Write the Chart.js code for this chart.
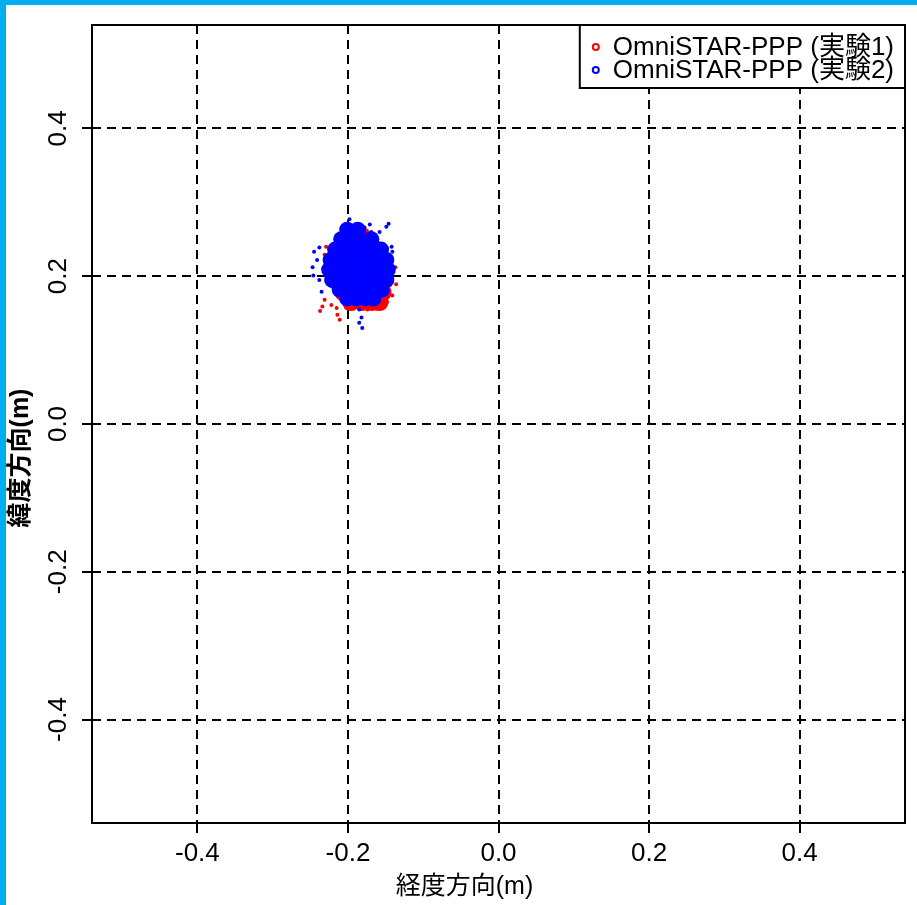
<!DOCTYPE html>
<html lang="ja">
<head>
<meta charset="UTF-8">
<title>OmniSTAR-PPP 測位誤差</title>
<style>
  html, body { margin: 0; padding: 0; background: #00aeef; }
  #wrap { position: absolute; left: 6px; top: 5px; width: 911px; height: 900px; background: #fff; }
</style>
</head>
<body>
<div id="wrap"><canvas id="myChart" width="911" height="900"></canvas></div>

<script src="https://cdn.jsdelivr.net/npm/chart.js"></script>
<script>
    // axis setup
    const xTicks = [-0.4, -0.2, 0.0, 0.2, 0.4];
    const yTicks = [-0.4, -0.2, 0.0, 0.2, 0.4];
    const axisMin = -0.54;
    const axisMax = 0.54;
    const xTitle = '経度方向(m)';
    const yTitle = '緯度方向(m)';
    const seriesLabels = ['OmniSTAR-PPP (実験1)', 'OmniSTAR-PPP (実験2)'];
    const seriesColors = ['#ff0000', '#0000ff'];

    // 実験1 (red) - dense core and scattered points  [x, y] in m
    const exp1Core = [
        [-0.197, 0.255], [-0.182, 0.255],
        [-0.212, 0.235], [-0.197, 0.235], [-0.182, 0.235], [-0.168, 0.235], [-0.160, 0.235],
        [-0.220, 0.215], [-0.205, 0.215], [-0.190, 0.215], [-0.175, 0.215], [-0.162, 0.215], [-0.152, 0.215],
        [-0.218, 0.195], [-0.203, 0.195], [-0.188, 0.195], [-0.173, 0.195], [-0.160, 0.195], [-0.151, 0.195],
        [-0.206, 0.178], [-0.191, 0.178], [-0.176, 0.178], [-0.163, 0.178], [-0.154, 0.178],
        [-0.196, 0.165], [-0.181, 0.165], [-0.168, 0.165], [-0.158, 0.165]
    ];
    const exp1Scatter = [
        [-0.231, 0.168], [-0.234, 0.159], [-0.237, 0.153], [-0.222, 0.161], [-0.215, 0.157],
        [-0.214, 0.148], [-0.211, 0.141], [-0.202, 0.157], [-0.194, 0.159], [-0.229, 0.240],
        [-0.231, 0.229], [-0.187, 0.267], [-0.137, 0.212], [-0.136, 0.189], [-0.141, 0.174],
        [-0.148, 0.165], [-0.161, 0.156], [-0.174, 0.155]
    ];

    // 実験2 (blue)
    const exp2Core = [
        [-0.201, 0.263], [-0.187, 0.263],
        [-0.209, 0.250], [-0.195, 0.250], [-0.182, 0.250], [-0.169, 0.250],
        [-0.217, 0.236], [-0.205, 0.236], [-0.193, 0.236], [-0.181, 0.236], [-0.169, 0.236], [-0.156, 0.236],
        [-0.223, 0.222], [-0.211, 0.222], [-0.199, 0.222], [-0.187, 0.222], [-0.175, 0.222], [-0.162, 0.222], [-0.149, 0.222],
        [-0.225, 0.209], [-0.213, 0.209], [-0.201, 0.209], [-0.189, 0.209], [-0.177, 0.209], [-0.162, 0.209], [-0.147, 0.209],
        [-0.221, 0.195], [-0.209, 0.195], [-0.197, 0.195], [-0.185, 0.195], [-0.173, 0.195], [-0.160, 0.195], [-0.149, 0.195],
        [-0.211, 0.182], [-0.199, 0.182], [-0.187, 0.182], [-0.175, 0.182], [-0.163, 0.182], [-0.155, 0.182],
        [-0.201, 0.170], [-0.189, 0.170], [-0.177, 0.170], [-0.166, 0.170]
    ];
    const exp2Scatter = [
        [-0.245, 0.233], [-0.238, 0.239], [-0.241, 0.222], [-0.247, 0.212], [-0.246, 0.201],
        [-0.238, 0.195], [-0.235, 0.179], [-0.198, 0.277], [-0.178, 0.266], [-0.171, 0.270],
        [-0.169, 0.260], [-0.158, 0.260], [-0.149, 0.267], [-0.146, 0.271], [-0.142, 0.240],
        [-0.141, 0.233], [-0.185, 0.155], [-0.182, 0.144], [-0.185, 0.137], [-0.181, 0.130]
    ];

    const toPoints = arr => arr.map(p => ({ x: p[0], y: p[1] }));
    const fontFamily = '"Liberation Sans", Arial, "Noto Sans CJK JP", sans-serif';

    // frame, legend box and axis titles
    const framePlugin = {
        id: 'frame',
        afterDraw(chart) {
            const ctx = chart.ctx;
            const a = chart.chartArea;
            ctx.save();
            ctx.strokeStyle = '#000';
            ctx.lineWidth = 2;
            ctx.setLineDash([]);
            ctx.strokeRect(a.left, a.top, a.right - a.left, a.bottom - a.top);

            // legend (top right, inside plot)
            ctx.font = '26px ' + fontFamily;
            const entries = seriesLabels.map(l => chart.data.datasets.find(d => d.legendEntry && d.label === l));
            const textW = Math.max(...entries.map(d => ctx.measureText(d.label).width));
            const boxW = textW + 44;
            const boxH = 63;
            const bx = a.right - boxW;
            const by = a.top;
            ctx.fillStyle = '#fff';
            ctx.fillRect(bx, by, boxW, boxH);
            ctx.strokeRect(bx, by, boxW, boxH);
            ctx.textBaseline = 'middle';
            ctx.textAlign = 'left';
            entries.forEach((d, i) => {
                const cy = by + 22 + i * 23;
                ctx.beginPath();
                ctx.arc(bx + 16, cy, 3, 0, Math.PI * 2);
                ctx.strokeStyle = d.borderColor;
                ctx.lineWidth = 2;
                ctx.stroke();
                ctx.fillStyle = '#000';
                ctx.fillText(d.label, bx + 33, cy + 1);
            });

            // axis titles
            ctx.fillStyle = '#000';
            ctx.textAlign = 'center';
            ctx.font = '25px ' + fontFamily;
            ctx.fillText(xTitle, (a.left + a.right) / 2 - 34, chart.height - 18);
            ctx.font = 'bold 25px ' + fontFamily;
            ctx.translate(15, (a.top + a.bottom) / 2 + 34);
            ctx.rotate(-Math.PI / 2);
            ctx.fillText(yTitle, 0, 0);
            ctx.restore();
        }
    };

    const gridOpts = {
        color: '#000',
        lineWidth: 2,
        drawTicks: true,
        tickLength: 10,
        tickColor: '#000',
        tickWidth: 2,
        tickBorderDash: []
    };

    const ctx = document.getElementById('myChart');

    new Chart(ctx, {
        type: 'scatter',
        data: {
            datasets: [
                { label: seriesLabels[1], legendEntry: true, data: toPoints(exp2Core), order: 1,
                  backgroundColor: seriesColors[1], borderColor: seriesColors[1], pointRadius: 8, borderWidth: 0 },
                { label: seriesLabels[1] + ' scatter', data: toPoints(exp2Scatter), order: 1,
                  backgroundColor: seriesColors[1], borderColor: seriesColors[1], pointRadius: 2, borderWidth: 0 },
                { label: seriesLabels[0], legendEntry: true, data: toPoints(exp1Core), order: 2,
                  backgroundColor: seriesColors[0], borderColor: seriesColors[0], pointRadius: 9, borderWidth: 0 },
                { label: seriesLabels[0] + ' scatter', data: toPoints(exp1Scatter), order: 2,
                  backgroundColor: seriesColors[0], borderColor: seriesColors[0], pointRadius: 2, borderWidth: 0 }
            ]
        },
        options: {
            responsive: false,
            animation: false,
            layout: { padding: { left: 0, right: 12, top: 20, bottom: 0 } },
            plugins: {
                legend: { display: false },
                tooltip: { enabled: false }
            },
            scales: {
                x: {
                    type: 'linear',
                    min: axisMin,
                    max: axisMax,
                    afterBuildTicks: s => { s.ticks = xTicks.map(v => ({ value: v })); },
                    afterFit: s => { s.height = 82; },
                    grid: gridOpts,
                    border: { display: false, dash: [9, 6] },
                    ticks: {
                        color: '#000',
                        font: { family: fontFamily, size: 26 },
                        padding: 5,
                        maxRotation: 0,
                        autoSkip: false,
                        callback: v => v.toFixed(1)
                    }
                },
                y: {
                    type: 'linear',
                    min: axisMin,
                    max: axisMax,
                    afterBuildTicks: s => { s.ticks = yTicks.map(v => ({ value: v })); },
                    afterFit: s => { s.width = 86; },
                    grid: gridOpts,
                    border: { display: false, dash: [9, 6] },
                    ticks: {
                        color: '#000',
                        font: { family: fontFamily, size: 26 },
                        padding: 1,
                        minRotation: 90,
                        maxRotation: 90,
                        crossAlign: 'center',
                        autoSkip: false,
                        callback: v => v.toFixed(1)
                    }
                }
            }
        },
        plugins: [framePlugin]
    });
</script>
</body>
</html>
